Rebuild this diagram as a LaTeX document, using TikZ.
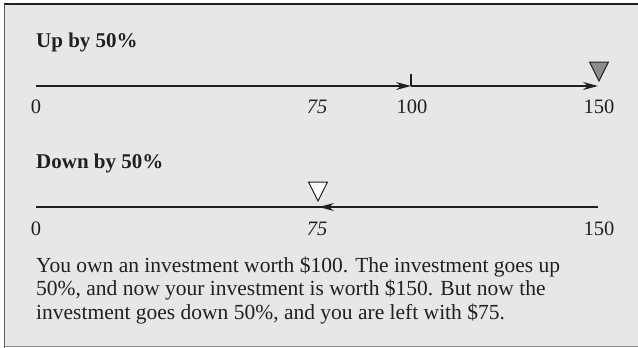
\documentclass[tikz,border=0pt]{standalone}
\usepackage{fontspec}
\setmainfont{Liberation Serif}
\usetikzlibrary{arrows.meta}
\definecolor{bg}{HTML}{E6E7E9}
\definecolor{trigray}{HTML}{8C8C8C}
\definecolor{ink}{HTML}{231F20}
\begin{document}
\begin{tikzpicture}[x=1pt,y=-1pt,
  axis/.style={draw=ink,line width=1.2pt},
  tip/.style={-{Stealth[length=15pt,width=8pt,inset=5pt]}},
  lbl/.style={anchor=base,inner sep=0pt,font=\fontsize{20.5}{24}\selectfont,text=ink},
  head/.style={anchor=base west,inner sep=0pt,font=\fontsize{21}{24}\selectfont\bfseries,text=ink},
  marker/.style={draw=ink,line width=1pt,line join=miter}]
\useasboundingbox (0,0) rectangle (638,348);
\fill[bg] (4,4) rectangle (638,346);
\draw[black!45,line width=1pt] (4,346.5) -- (638,346.5);
\draw[ink,line width=1.6pt] (4,4) -- (638,4);
\draw[black!65,line width=1.4pt] (4.7,4) -- (4.7,348);
% Up by 50%
\node[head] (h1) at (36,47) {Up by 50\%};
\coordinate (u0) at (36,86);
\coordinate (u100) at (411,86);
\coordinate (u150) at (598,86);
\draw[axis,tip] (u0) -- (u100);
\draw[axis,tip] (u100) -- (u150);
\draw[axis] (u100) -- ++(0,-12);
\node[lbl] (l0) at (36,113) {0};
\node[lbl] (l75) at (317,113) {\itshape 75};
\node[lbl] (l100) at (412,113) {100};
\node[lbl] (l150) at (599,113) {150};
\draw[marker,fill=trigray] (589.5,62) -- (608.5,62) -- (599,81) -- cycle;
% Down by 50%
\node[head] (h2) at (36,168) {Down by 50\%};
\coordinate (d0) at (36,207);
\coordinate (d75) at (319,207);
\coordinate (d150) at (598,207);
\draw[axis] (d0) -- (d150);
\draw[axis,tip] (d150) -- (d75);
\node[lbl] (m0) at (36,235) {0};
\node[lbl] (m75) at (317,235) {\itshape 75};
\node[lbl] (m150) at (599,235) {150};
\draw[marker,fill=white] (308.5,182) -- (327.5,182) -- (318,201) -- cycle;
% paragraph
\node[anchor=base west,inner sep=0pt,align=left,text=ink,font=\fontsize{21.5}{23.5}\selectfont] (p) at (36,319)
 {You own an investment worth \$100. The investment goes up\\
  50\%, and now your investment is worth \$150. But now the\\
  investment goes down 50\%, and you are left with \$75.};
\end{tikzpicture}
\end{document}
